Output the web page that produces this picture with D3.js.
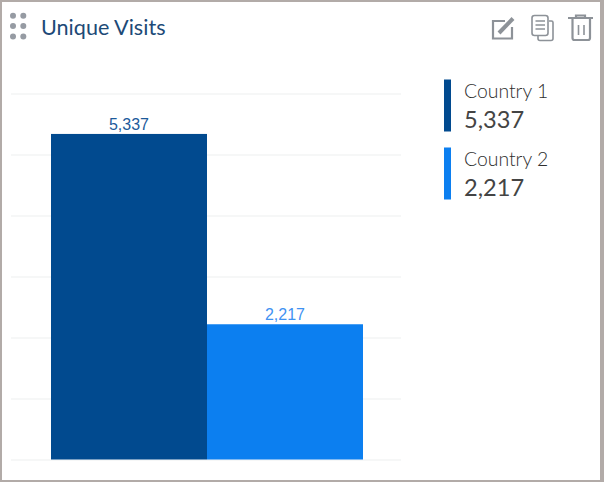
<!DOCTYPE html>
<html>
<head>
<meta charset="utf-8">
<script src="https://cdn.jsdelivr.net/npm/d3@7"></script>
<style>
    html, body { margin: 0; padding: 0; background: #fff; overflow: hidden; }
    #chart { width: 604px; height: 482px; }
    svg { display: block; }
</style>
</head>
<body>
<div id="chart"></div>
<script>
// chart data
let categories = ['Country 1', 'Country 2'];
let visits = [5337, 2217];
let tickValues = [0, 1000, 2000, 3000, 4000, 5000, 6000];
let barColors = ['#014a8f', '#0c7ff0'];
let labelColors = ['#1c5a9b', '#3f92f2'];

let fmt = d3.format(',');

let svg = d3.select('#chart').append('svg')
    .attr('width', 604)
    .attr('height', 482);

// grey frame behind the white card
svg.append('rect')
    .attr('width', 604)
    .attr('height', 482)
    .attr('fill', '#b2aba8');

svg.append('rect')
    .attr('x', 2)
    .attr('y', 2)
    .attr('width', 598)
    .attr('height', 478)
    .attr('fill', '#fff');

// header
let dots = svg.append('g').attr('fill', '#969ba3');
[0, 1].forEach(c => [0, 1, 2].forEach(r => {
    dots.append('circle')
        .attr('cx', 13 + c * 10.3)
        .attr('cy', 15.8 + r * 10.3)
        .attr('r', 3);
}));

svg.append('text')
    .attr('x', 41)
    .attr('y', 35)
    .attr('font-family', 'Lato')
    .attr('font-size', 21.6)
    .attr('fill', '#1d4a77')
    .text('Unique Visits');

// edit, copy, delete icons
let icons = svg.append('g')
    .attr('fill', 'none')
    .attr('stroke', '#8d9298')
    .attr('stroke-width', 2.2);

icons.append('path')
    .attr('d', 'M505 21H493V38.5H512V27');
icons.append('path')
    .attr('d', 'M499 33L513 18.5')
    .attr('stroke-width', 4);

icons.append('rect')
    .attr('x', 532).attr('y', 15.5)
    .attr('width', 16).attr('height', 20).attr('rx', 2.5)
    .attr('stroke-width', 1.6);
icons.append('path')
    .attr('stroke-width', 1.5)
    .attr('d', 'M535.5 21H545M535.5 25H545M535.5 29H545');
icons.append('path')
    .attr('stroke-width', 1.6)
    .attr('d', 'M549 21H551.5Q553 21 553 22.5V38.5Q553 40.5 551 40.5H540Q538 40.5 538 38.5V36');

icons.append('path')
    .attr('d', 'M568 18H593M576 17.5V15.5H585V17.5');
icons.append('path')
    .attr('d', 'M572.5 19V38Q572.5 40 574.5 40H588Q590 40 590 38V19');
icons.append('path')
    .attr('stroke-width', 1.6)
    .attr('d', 'M578.5 25V35M584 25V35');

// scales
let x = d3.scaleBand()
    .domain(categories)
    .range([51, 363]);

let y = d3.scaleLinear()
    .domain([0, 6000])
    .range([459.5, 93.5]);

// gridlines
let grid = svg.append('g')
    .attr('transform', 'translate(401,0)')
    .call(d3.axisLeft(y).tickValues(tickValues).tickSize(-390).tickFormat(''));

grid.select('.domain').remove();
grid.selectAll('.tick line')
    .attr('x1', -390)
    .attr('x2', 0)
    .attr('stroke', '#f3f4f5')
    .attr('stroke-width', 1.5);

// bars
svg.selectAll('.bar')
    .data(categories)
    .enter().append('rect')
    .attr('class', 'bar')
    .attr('x', d => x(d))
    .attr('y', (d, i) => y(visits[i]))
    .attr('width', x.bandwidth())
    .attr('height', (d, i) => y(0) - y(visits[i]))
    .attr('fill', (d, i) => barColors[i]);

svg.selectAll('.barLabel')
    .data(categories)
    .enter().append('text')
    .attr('class', 'barLabel')
    .attr('x', d => x(d) + x.bandwidth() / 2)
    .attr('y', (d, i) => y(visits[i]) - 4)
    .attr('text-anchor', 'middle')
    .attr('font-family', 'Liberation Sans')
    .attr('font-size', 16)
    .attr('fill', (d, i) => labelColors[i])
    .text((d, i) => fmt(visits[i]));

// legend
let legend = svg.selectAll('.legendItem')
    .data(categories)
    .enter().append('g')
    .attr('class', 'legendItem')
    .attr('transform', (d, i) => 'translate(444,' + (79.5 + i * 68) + ')');

legend.append('rect')
    .attr('width', 7)
    .attr('height', 52)
    .attr('fill', (d, i) => barColors[i]);

legend.append('text')
    .attr('x', 20)
    .attr('y', 18)
    .attr('font-family', 'Lato')
    .attr('font-weight', 300)
    .attr('font-size', 19.4)
    .attr('fill', '#2e2e2e')
    .text(d => d);

legend.append('text')
    .attr('x', 20)
    .attr('y', 48)
    .attr('font-family', 'Lato')
    .attr('font-size', 23.6)
    .attr('fill', '#444')
    .text((d, i) => fmt(visits[i]));
</script>
</body>
</html>
